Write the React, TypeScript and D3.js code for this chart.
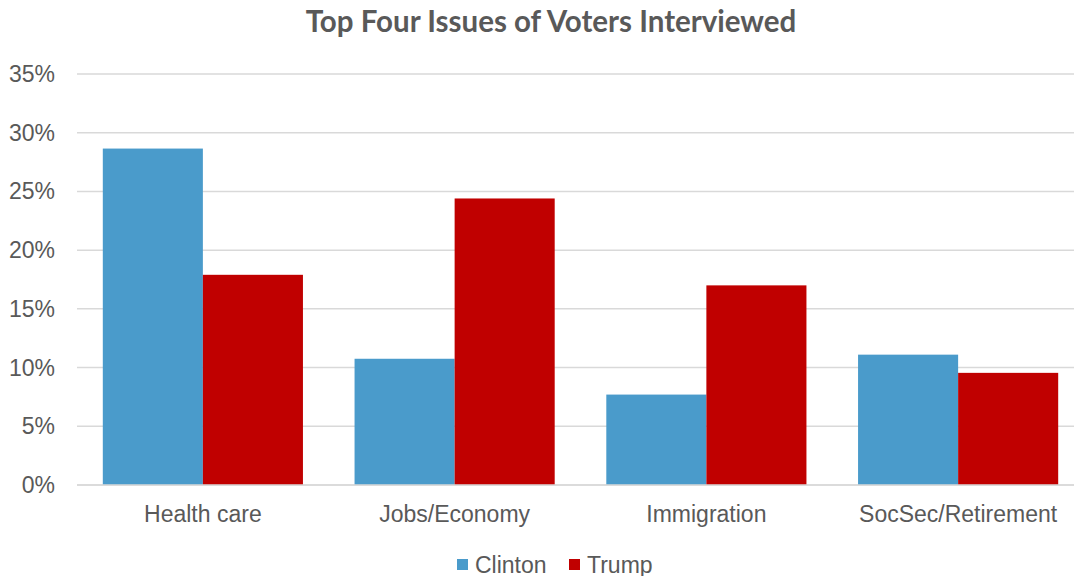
import React from "react";
import * as d3 from "d3";

const categories = ["Health care", "Jobs/Economy", "Immigration", "SocSec/Retirement"];
const seriesNames = ["Clinton", "Trump"];
const clinton = [0.2865, 0.1075, 0.077, 0.111];
const trump = [0.179, 0.244, 0.17, 0.0955];
const yTicks = [0, 0.05, 0.1, 0.15, 0.2, 0.25, 0.3, 0.35];
const colors = ["#4A9BCB", "#C00000"];

export default function App() {
  const W = 1074, H = 576;
  const left = 77, right = 1084, top = 74, bottom = 485;
  const x = d3.scaleBand<string>().domain(categories).range([left, right]).paddingInner(0.205).paddingOuter(0.1025);
  const inner = d3.scaleBand<string>().domain(seriesNames).range([0, x.bandwidth()]);
  const y = d3.scaleLinear().domain([0, 0.35]).range([bottom, top]);
  const fmt = d3.format(".0%");
  const series = [clinton, trump];
  const axisFont = "'Liberation Sans', Arial, sans-serif";
  return (
    <svg width={W} height={H} style={{ position: "absolute", left: 0, top: 0 }}>
      <rect width={W} height={H} fill="#fff" />
      <text x={551} y={32} textAnchor="middle" fontFamily="Lato, 'Open Sans', sans-serif" fontWeight="bold" fontSize={29.5} fill="#595959">
        Top Four Issues of Voters Interviewed
      </text>
      {yTicks.map((t) => (
        <g key={t}>
          <line x1={left} x2={right} y1={y(t)} y2={y(t)} stroke="#D9D9D9" strokeWidth={1.5} />
          <text x={55} y={y(t) + 8} textAnchor="end" fontFamily={axisFont} fontSize={23} fill="#595959">
            {fmt(t)}
          </text>
        </g>
      ))}
      {categories.map((c, i) => (
        <g key={c}>
          {series.map((s, j) => (
            <rect
              key={j}
              x={(x(c) as number) + (inner(seriesNames[j]) as number)}
              y={y(s[i])}
              width={inner.bandwidth()}
              height={y(0) - y(s[i])}
              fill={colors[j]}
            />
          ))}
          <text x={(x(c) as number) + x.bandwidth() / 2} y={522} textAnchor="middle" fontFamily={axisFont} fontSize={23} fill="#595959">
            {c}
          </text>
        </g>
      ))}
      <line x1={left} x2={right} y1={y(0)} y2={y(0)} stroke="#D9D9D9" strokeWidth={1.5} />
      {seriesNames.map((n, j) => {
        const lx = j === 0 ? 457 : 569;
        return (
          <g key={n}>
            <rect x={lx} y={559} width={11} height={11} fill={colors[j]} />
            <text x={lx + 18} y={573} fontFamily={axisFont} fontSize={23} fill="#595959">
              {n}
            </text>
          </g>
        );
      })}
    </svg>
  );
}
